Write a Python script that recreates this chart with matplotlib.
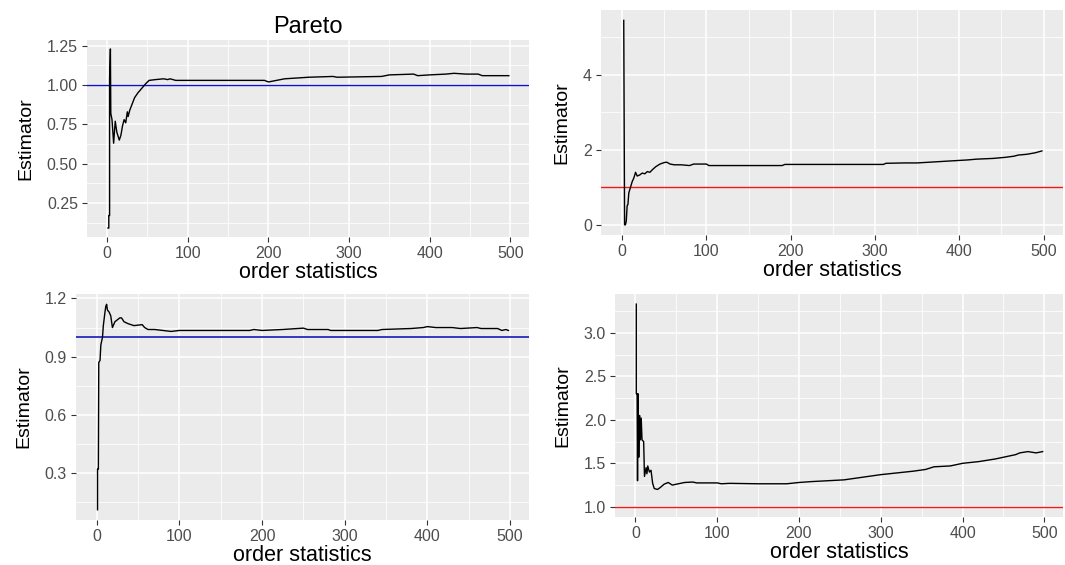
import matplotlib.pyplot as plt
import numpy as np

plt.rcParams['font.family'] = ['Liberation Sans', 'DejaVu Sans']

# top-left: Pareto
x1 = [1, 2, 2, 3, 3, 4, 4.5, 6, 8, 10, 12, 15, 17, 19, 21, 23, 25, 26, 28, 31, 34, 38, 43, 48, 52,
      60, 70, 75, 78, 85, 95, 150, 195, 200, 210, 220, 235, 250, 280, 285, 340, 350, 380, 385,
      400, 420, 430, 445, 460, 465, 498]
y1 = [0.09, 0.09, 0.17, 0.17, 1.04, 1.23, 0.82, 0.78, 0.63, 0.77, 0.70, 0.65, 0.68, 0.74, 0.78,
      0.76, 0.83, 0.80, 0.84, 0.88, 0.92, 0.95, 0.98, 1.01, 1.03, 1.035, 1.04, 1.035, 1.04, 1.03,
      1.03, 1.03, 1.03, 1.02, 1.03, 1.04, 1.045, 1.05, 1.055, 1.05, 1.055, 1.065, 1.07, 1.06,
      1.065, 1.07, 1.075, 1.07, 1.07, 1.06, 1.06]

# top-right
x2 = [2, 3, 4, 5, 6, 7, 8, 10, 12, 14, 16, 18, 21, 24, 27, 30, 33, 36, 40, 45, 50, 53, 57, 62,
      70, 80, 85, 100, 103, 150, 190, 193, 250, 310, 313, 335, 350, 365, 380, 395, 410, 420,
      440, 455, 465, 470, 480, 490, 498]
y2 = [5.45, 0.0, 0.0, 0.1, 0.5, 0.55, 0.85, 1.0, 1.15, 1.25, 1.4, 1.3, 1.33, 1.38, 1.36, 1.42,
      1.4, 1.47, 1.55, 1.62, 1.66, 1.67, 1.62, 1.6, 1.6, 1.58, 1.62, 1.62, 1.58, 1.58, 1.58,
      1.61, 1.61, 1.61, 1.64, 1.65, 1.65, 1.67, 1.69, 1.71, 1.73, 1.75, 1.77, 1.80, 1.83, 1.86,
      1.88, 1.92, 1.97]

# bottom-left
x3 = [1, 1, 2, 2.5, 4, 5, 6, 7, 8, 10, 11, 12, 13, 15, 17, 19, 22, 25, 28, 30, 33, 38, 45, 55,
      58, 62, 70, 80, 90, 100, 185, 190, 200, 225, 250, 255, 280, 283, 340, 345, 380, 395, 400,
      410, 430, 440, 460, 465, 485, 490, 495, 498]
y3 = [0.11, 0.32, 0.32, 0.87, 0.88, 0.96, 0.98, 1.0, 1.06, 1.13, 1.16, 1.17, 1.14, 1.13, 1.11,
      1.05, 1.08, 1.09, 1.1, 1.1, 1.08, 1.07, 1.06, 1.065, 1.05, 1.04, 1.04, 1.035, 1.03, 1.035,
      1.035, 1.04, 1.035, 1.04, 1.047, 1.04, 1.04, 1.035, 1.035, 1.04, 1.045, 1.05, 1.055, 1.05,
      1.05, 1.045, 1.05, 1.045, 1.045, 1.035, 1.04, 1.035]

# bottom-right
x4 = [1, 1, 2, 2.5, 3, 4, 5, 6, 7, 8, 10, 11, 13, 14, 15, 17, 19, 21, 23, 27, 30, 35, 40, 45, 50,
      60, 70, 75, 100, 105, 115, 150, 185, 200, 215, 235, 255, 270, 285, 300, 320, 340, 355, 365,
      385, 400, 420, 440, 455, 465, 470, 480, 490, 498]
y4 = [3.33, 2.3, 2.3, 1.3, 2.3, 1.57, 2.05, 1.77, 2.02, 1.77, 1.75, 1.35, 1.45, 1.38, 1.47, 1.40,
      1.42, 1.27, 1.21, 1.2, 1.22, 1.26, 1.28, 1.25, 1.26, 1.28, 1.285, 1.275, 1.275, 1.265, 1.27,
      1.265, 1.265, 1.28, 1.29, 1.3, 1.31, 1.33, 1.35, 1.37, 1.39, 1.41, 1.43, 1.46, 1.47, 1.5,
      1.52, 1.55, 1.58, 1.60, 1.62, 1.635, 1.62, 1.635]

xticks = [0, 100, 200, 300, 400, 500]
yticks1 = [0.25, 0.50, 0.75, 1.00, 1.25]
yticks2 = [0, 2, 4]
yticks3 = [0.3, 0.6, 0.9, 1.2]
yticks4 = [1.0, 1.5, 2.0, 2.5, 3.0]


def gg_panel(pos, x, y, href, hcol, yticks, ylabs, hlw=1.0):
    ax = fig.add_axes(pos)
    ax.set_facecolor('#EBEBEB')
    for s in ax.spines.values():
        s.set_visible(False)
    ax.plot(x, y, color='black', lw=1.0, zorder=3)
    ax.axhline(href, color=hcol, lw=hlw, zorder=2)
    # ggplot-like limits: hline is part of the scale
    lo = min(min(y), href)
    hi = max(max(y), href)
    pad = 0.05 * (hi - lo)
    ax.set_xticks(xticks)
    ax.set_yticks(yticks)
    ax.set_yticklabels(ylabs)
    step = yticks[1] - yticks[0]
    ax.set_xticks([50, 150, 250, 350, 450], minor=True)
    ax.set_yticks(list(np.arange(yticks[0] - step / 2, yticks[-1] + step, step)), minor=True)
    ax.set_ylim(lo - pad, hi + pad)
    ax.set_xlim(-25, 523)
    ax.grid(which='major', color='white', lw=1.1, zorder=0)
    ax.grid(which='minor', color='white', lw=0.55, zorder=0)
    ax.set_axisbelow(True)
    ax.tick_params(which='major', direction='out', length=3.5, width=0.8, color='#333333',
                   labelsize=11.5, labelcolor='#4D4D4D', pad=3)
    ax.tick_params(which='minor', length=0)
    ax.set_xlabel('order statistics', fontsize=15.5, labelpad=1)
    ax.set_ylabel('Estimator', fontsize=14, labelpad=9)
    return ax


fig = plt.figure(figsize=(10.65, 5.65), dpi=100)

ax1 = gg_panel([0.0817, 0.5805, 0.415, 0.3487], x1, y1, 1.0, '#1010C8',
               yticks1, ['0.25', '0.50', '0.75', '1.00', '1.25'])
ax1.set_title('Pareto', fontsize=17, pad=5)
ax2 = gg_panel([0.5643, 0.584, 0.4338, 0.398], x2, y2, 1.0, '#F01818',
               yticks2, ['0', '2', '4'])
ax3 = gg_panel([0.0714, 0.0796, 0.4254, 0.400], x3, y3, 1.0, '#3838C0',
               yticks3, ['0.3', '0.6', '0.9', '1.2'], hlw=1.4)
ax4 = gg_panel([0.5775, 0.085, 0.4207, 0.3947], x4, y4, 1.0, '#F01818',
               yticks4, ['1.0', '1.5', '2.0', '2.5', '3.0'])

plt.savefig('out.png', dpi=100, facecolor='white')
